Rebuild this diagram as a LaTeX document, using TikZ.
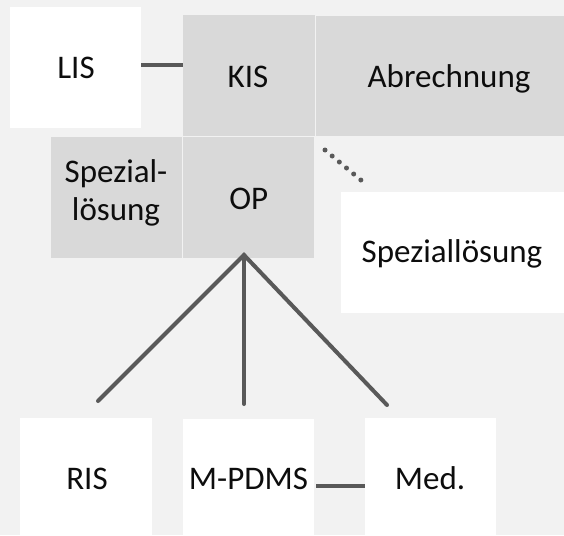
\documentclass[tikz,border=0pt]{standalone}
\usepackage{fontspec}
\setmainfont{Carlito}
\definecolor{bg}{HTML}{F2F2F2}
\definecolor{boxgray}{HTML}{D9D9D9}
\definecolor{linegray}{HTML}{595959}
\definecolor{txt}{HTML}{0D0D0D}
\begin{document}
\begin{tikzpicture}[x=1pt,y=-1pt,
  box/.style={fill=white},
  graybox/.style={fill=boxgray},
  label/.style={text=txt,font=\fontsize{33}{38}\selectfont,align=center,inner sep=0pt,anchor=base},
  link/.style={draw=linegray,line width=4pt},
  tree/.style={draw=linegray,line width=4pt,line cap=round},
  dots/.style={draw=linegray,line width=5pt,line cap=round,dash pattern=on 0pt off 9.35pt}]
  \fill[bg] (0,0) rectangle (564,535);
  \useasboundingbox (0,0) rectangle (564,535);

  % top row
  \path[box] (10,7) rectangle (141,128);
  \node[label] (lis) at (76,78) {LIS};
  \path[graybox] (183,15) rectangle (315,136);
  \node[label] (kis) at (248,87) {KIS};
  \path[graybox] (316,16) rectangle (564,136);
  \node[label] (abr) at (449,87) {Abrechnung};

  % second row (base anchor of a two-line label sits on its last line)
  \path[graybox] (51,137) rectangle (182,258);
  \node[label] (spz) at (116,220) {Spezial-\\lösung};
  \path[graybox] (183,137) rectangle (314,258);
  \node[label] (op) at (248.7,209) {OP};
  \path[box] (341,192) rectangle (564,313);
  \node[label] (spl) at (452,262) {Speziallösung};

  % bottom row
  \path[box] (20,418) rectangle (152,535);
  \node[label] (ris) at (87,489) {RIS};
  \path[box] (183,419) rectangle (314,535);
  \node[label] (pdms) at (248.5,489) {M-PDMS};
  \path[box] (365,418) rectangle (496,535);
  \node[label] (med) at (430,489) {Med.};

  % connectors
  \coordinate (lisR) at (141,64.5);
  \coordinate (kisL) at (183,64.5);
  \draw[link] (lisR) -- (kisL);
  \coordinate (apex) at (244,255);
  \coordinate (risT) at (98,401);
  \coordinate (pdmsT) at (244,404);
  \coordinate (medT) at (387,405);
  \draw[tree] (risT) -- (apex) -- (medT);
  \draw[tree] (apex) -- (pdmsT);
  \coordinate (pdmsR) at (316,486);
  \coordinate (medL) at (365,486);
  \draw[link] (pdmsR) -- (medL);
  \coordinate (dotA) at (325,150);
  \coordinate (dotB) at (368,186);
  \draw[dots] (dotA) -- (dotB);
\end{tikzpicture}
\end{document}
